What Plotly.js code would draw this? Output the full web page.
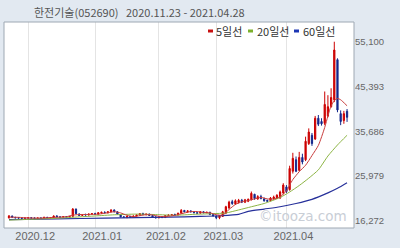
<!DOCTYPE html>
<html><head><meta charset="utf-8">
<script src="https://cdn.plot.ly/plotly-3.0.1.min.js"></script>
<style>html,body{margin:0;padding:0;background:#e2e9f1;}#c{width:400px;height:248px;}</style>
</head><body><div id="c"></div>
<script>
const dates = [
'2020-11-23','2020-11-24','2020-11-25','2020-11-26','2020-11-27','2020-11-30',
'2020-12-01','2020-12-02','2020-12-03','2020-12-04','2020-12-07','2020-12-08','2020-12-09','2020-12-10','2020-12-11',
'2020-12-14','2020-12-15','2020-12-16','2020-12-17','2020-12-18','2020-12-21','2020-12-22','2020-12-23','2020-12-24',
'2020-12-28','2020-12-29','2020-12-30',
'2021-01-04','2021-01-05','2021-01-06','2021-01-07','2021-01-08','2021-01-11','2021-01-12','2021-01-13','2021-01-14',
'2021-01-15','2021-01-18','2021-01-19','2021-01-20','2021-01-21','2021-01-22','2021-01-25','2021-01-26','2021-01-27',
'2021-01-28','2021-01-29',
'2021-02-01','2021-02-02','2021-02-03','2021-02-04','2021-02-05','2021-02-08','2021-02-09','2021-02-10','2021-02-15',
'2021-02-16','2021-02-17','2021-02-18','2021-02-19','2021-02-22','2021-02-23','2021-02-24','2021-02-25','2021-02-26',
'2021-03-02','2021-03-03','2021-03-04','2021-03-05','2021-03-08','2021-03-09','2021-03-10','2021-03-11','2021-03-12',
'2021-03-15','2021-03-16','2021-03-17','2021-03-18','2021-03-19','2021-03-22','2021-03-23','2021-03-24','2021-03-25',
'2021-03-26','2021-03-29','2021-03-30','2021-03-31',
'2021-04-01','2021-04-02','2021-04-05','2021-04-06','2021-04-07','2021-04-08','2021-04-09','2021-04-12','2021-04-13',
'2021-04-14','2021-04-15','2021-04-16','2021-04-19','2021-04-20','2021-04-21','2021-04-22','2021-04-23','2021-04-26',
'2021-04-27','2021-04-28'
];
const openP = [16850,17300,17000,16900,16850,16800,16850,16900,16850,16800,16850,16800,17000,16900,16950,17300,17100,17050,17150,17100,
17200,18800,17700,17400,17600,17500,17700,17800,17700,17900,18100,17950,18200,18600,18200,17600,17100,17000,17200,17000,
17300,17500,17800,17600,17700,17400,17100,16900,17100,16950,17400,17500,17600,17500,17900,18500,18200,18400,18200,18000,
17900,18200,18000,18100,17600,17300,16900,17200,17900,19000,20400,19900,20200,20700,20300,20500,20800,22000,21000,21500,
21000,20700,20600,21000,21200,21200,22300,23600,23000,27000,29500,27200,30000,29500,33000,34800,34000,38500,37800,37400,
39000,41000,42500,51200,39500,38000,40000];
const highP = [17500,17350,17100,17000,16950,16900,16950,17000,16950,16900,16950,17100,17100,17000,17400,17450,17200,17200,17250,17250,
19000,18900,17900,17700,17800,17800,17900,18000,18100,18200,18300,18300,18750,18700,18300,17700,17300,17300,17300,17400,
17600,17900,18000,17800,17800,17500,17200,17200,17200,17500,17600,17700,17800,18000,18800,18600,18500,18500,18300,18100,
18300,18300,18200,18200,17700,17400,17500,18400,19500,20600,20800,20900,21000,21000,21000,21100,22600,22100,21800,21900,
21300,20800,21400,21700,22000,22800,24400,24000,28200,31000,30200,31200,30800,34500,36300,35300,39000,39200,38500,44300,
43500,45000,55100,51500,40200,40100,40500];
const lowP = [16800,16950,16800,16750,16700,16700,16750,16800,16700,16750,16750,16750,16850,16800,16900,17050,16950,16950,17000,17000,
17150,17700,17300,17300,17450,17400,17600,17600,17600,17800,17900,17900,18100,18100,17600,17000,16900,16800,16900,16950,
17200,17400,17500,17400,17300,17000,16800,16800,16850,16900,17300,17400,17450,17400,17800,18100,18000,18100,17900,17800,
17800,17900,17900,17500,17200,16600,16600,17100,17800,18900,19700,19700,20000,20100,20100,20300,20700,20800,20800,20900,
20400,20300,20500,20900,21000,21000,22000,22300,22800,26500,26800,27000,28500,29200,32700,32500,33800,36800,36900,37000,
38700,40800,42000,39800,37000,37300,37700];
const closeP = [17300,17000,16900,16850,16800,16850,16900,16850,16800,16850,16800,17000,16900,16950,17300,17100,17050,17150,17100,17200,
18800,17800,17400,17600,17500,17700,17800,17700,18000,18100,18000,18200,18600,18200,17700,17100,17000,17200,17000,17300,
17500,17800,17600,17700,17400,17100,16900,17100,16950,17400,17500,17600,17500,17900,18500,18200,18400,18200,18000,17900,
18200,18000,18100,17600,17300,16900,17400,18200,19300,20300,20000,20600,20700,20300,20800,20900,22200,21100,21500,21100,
20600,20500,21200,21400,21800,22500,24000,22600,27600,29800,27000,30000,29000,33500,35500,33000,38500,37200,37300,41500,
41000,43000,53300,40300,37800,39500,38700];

// moving-average lines at sample trading days (index into dates)
const ma5Idx = [0,3,6,10,14,18,20,22,25,28,31,33,35,37,39,41,43,45,47,49,51,53,55,57,59,61,63,65,67,69,71,73,75,77,79,81,83,85,87,88,89,91,93,95,97,99,100,101,102,103,104,106];
const ma5   = [17050,17000,16870,16840,16980,17140,17470,17610,17620,17680,17990,18220,17960,17440,17140,17360,17580,17520,17220,17150,17310,17580,17940,18240,18260,18060,17980,17580,17480,18700,19800,20380,20660,21000,21320,21000,20960,21480,22700,24000,25200,26900,28300,30400,32600,36500,39000,41200,42300,42800,42500,41200];
const ma20Idx = [0,6,15,22,27,33,40,46,52,58,64,68,72,76,80,85,88,91,94,97,100,103,106];
const ma20   = [16400,16550,16800,17100,17300,17550,17700,17600,17450,17650,17800,17950,18600,19300,20000,21300,22500,23900,25500,27300,30300,32700,34800];
const ma60Idx = [0,15,30,40,50,60,66,72,75,80,85,90,95,100,103,106];
const ma60   = [16500,16650,16850,16950,17050,17200,17350,17650,18300,18800,19300,20000,20900,22300,23300,24500];

const tickDates = ['2020-12-01','2021-01-04','2021-02-01','2021-03-02','2021-04-01'];
const tickText  = ['2020.12','2021.01','2021.02','2021.03','2021.04'];
const yTicks = [16272,25979,35686,45393,55100];

const title1 = '한전기술(052690)';
const title2 = '2020.11.23 - 2021.04.28';
const legendNames = ['5일선','20일선','60일선'];
const legendColors = ['#c81010','#7cb02c','#1c36b4'];

const px = v => (v-4)/350;      // pixel -> paper x
const py = v => (228-v)/206;    // pixel -> paper y

const traces = [
  {type:'candlestick',x:dates,open:openP,high:highP,low:lowP,close:closeP,
   increasing:{line:{color:'#cc0000',width:1},fillcolor:'#cc0000'},
   decreasing:{line:{color:'#14288c',width:1},fillcolor:'#14288c'},
   whiskerwidth:0,hoverinfo:'skip',showlegend:false},
  {type:'scatter',mode:'lines',x:ma60Idx.map(i=>dates[i]),y:ma60,line:{color:'#26309a',width:1.2,shape:'spline',smoothing:0.6},hoverinfo:'skip',showlegend:false},
  {type:'scatter',mode:'lines',x:ma20Idx.map(i=>dates[i]),y:ma20,line:{color:'#8db545',width:1,shape:'spline',smoothing:0.6},hoverinfo:'skip',showlegend:false},
  {type:'scatter',mode:'lines',x:ma5Idx.map(i=>dates[i]),y:ma5,line:{color:'#c83c3c',width:1,shape:'spline',smoothing:0.6},hoverinfo:'skip',showlegend:false}
];

const font = "'Liberation Sans', Arial, sans-serif";
const kfont = "'Noto Sans CJK KR'";
const shapes = [
  {type:'rect',xref:'paper',yref:'paper',x0:0,x1:1,y0:0,y1:1,line:{color:'#9ea8b3',width:1},layer:'above'}
];
const annotations = [
  {xref:'paper',yref:'paper',x:px(65),y:py(12),xanchor:'center',yanchor:'middle',xshift:11,text:title1,showarrow:false,font:{family:kfont,size:11,color:'#555'}},
  {xref:'paper',yref:'paper',x:px(185.5),y:py(12),xanchor:'center',yanchor:'middle',text:title2,showarrow:false,font:{family:kfont,size:11,color:'#555'}},
  {xref:'paper',yref:'paper',x:px(303),y:py(216),xanchor:'center',yanchor:'middle',text:'©itooza.com',showarrow:false,font:{family:"'DejaVu Sans'",size:13.5,color:'#c9ced6'}}
];
const legCenter = [229.5,272.5,318.5];
const legMark = [208,248,294];
legendNames.forEach((n,i)=>{
  shapes.push({type:'rect',xref:'paper',yref:'paper',x0:px(legMark[i]),x1:px(legMark[i]+5),y0:py(32.5),y1:py(29.5),fillcolor:legendColors[i],line:{width:0}});
  annotations.push({xref:'paper',yref:'paper',x:px(legCenter[i]),y:py(31),xanchor:'center',yanchor:'middle',text:n,showarrow:false,font:{family:kfont,size:11,color:'#333'}});
});

const layout = {
  width:400,height:248,
  margin:{l:4,r:46,t:22,b:20},
  paper_bgcolor:'#e2e9f1',plot_bgcolor:'#ffffff',
  boxgap:0.45,
  xaxis:{type:'category',categoryorder:'array',categoryarray:dates,range:[-1.568,108.18],tickmode:'array',tickvals:tickDates,ticktext:tickText,
         tickangle:0,showgrid:true,gridcolor:'#e4e4e4',gridwidth:1,ticks:'',ticklabelshift:7,
         tickfont:{family:font,size:11,color:'#666'},rangeslider:{visible:false},zeroline:false,showline:false,fixedrange:true},
  yaxis:{side:'right',range:[14687,59378],tickmode:'array',tickvals:yTicks,tickformat:',d',showgrid:false,zeroline:false,
         ticks:'',tickfont:{family:font,size:9.5,color:'#666'},showline:false,fixedrange:true},
  shapes:shapes,annotations:annotations,showlegend:false
};
Plotly.newPlot('c',traces,layout,{staticPlot:true,displayModeBar:false});
</script></body></html>
